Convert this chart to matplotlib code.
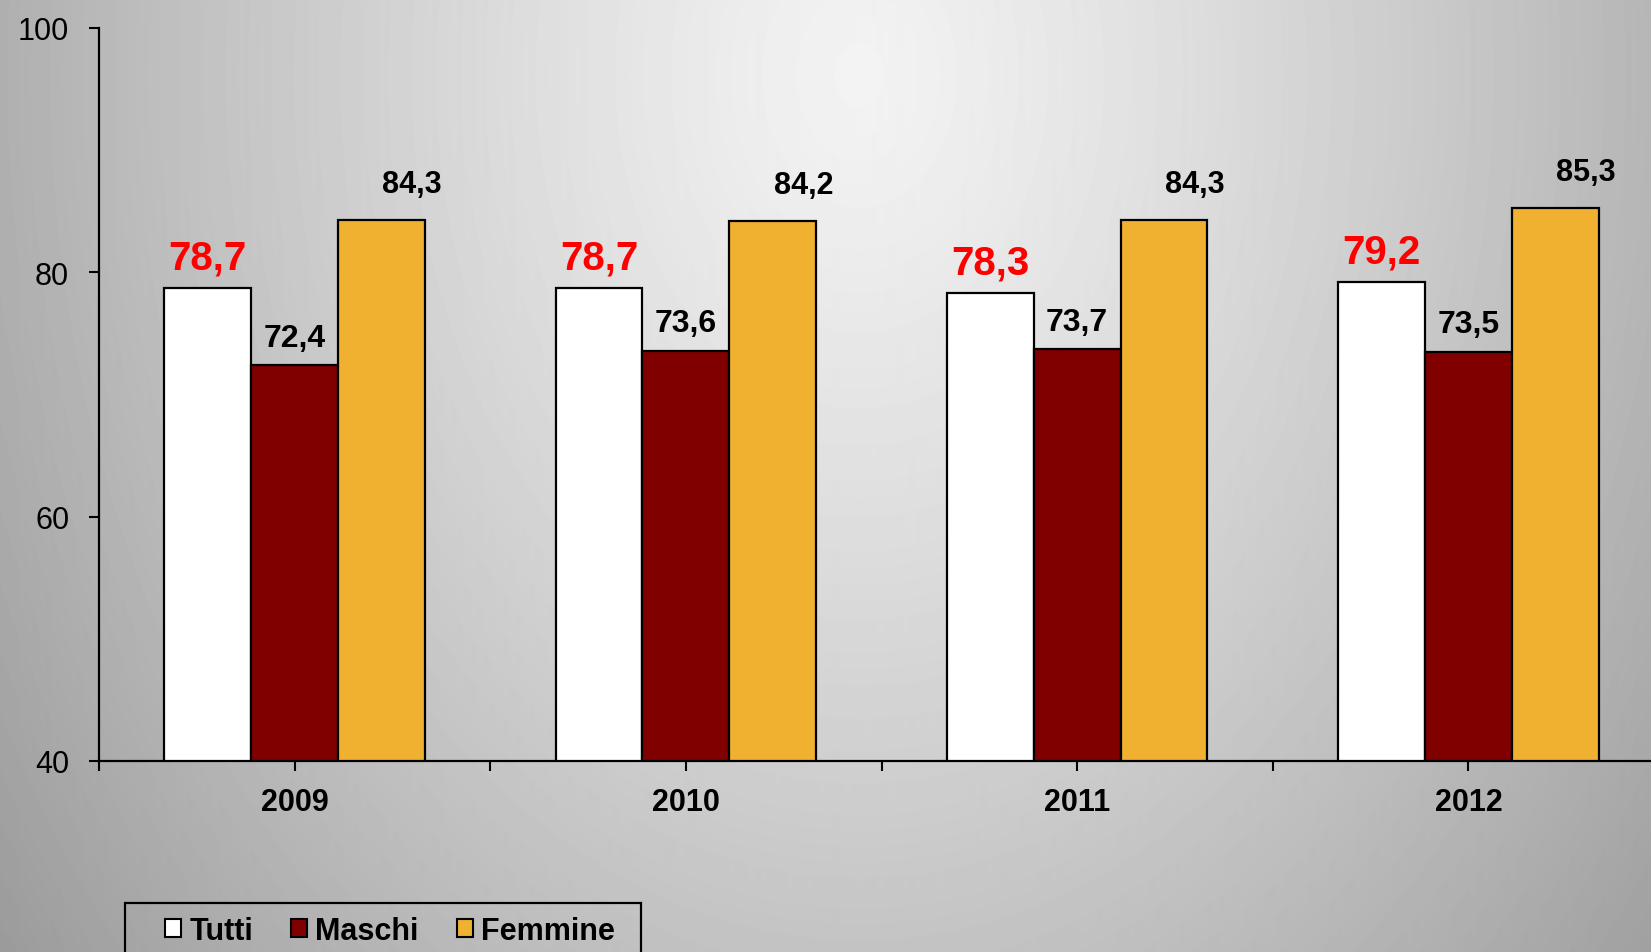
import numpy as np
import matplotlib
matplotlib.use("Agg")
import matplotlib.pyplot as plt
from matplotlib.patches import Patch, Rectangle

plt.rcParams['font.family'] = ['Liberation Sans', 'DejaVu Sans']

# dati
anni = ["2009", "2010", "2011", "2012"]
serie = ["Tutti", "Maschi", "Femmine"]
tutti = [78.7, 78.7, 78.3, 79.2]
maschi = [72.4, 73.6, 73.7, 73.5]
femmine = [84.3, 84.2, 84.3, 85.3]
yticks = [40, 60, 80, 100]

W, H = 1651, 953
fig = plt.figure(figsize=(W / 100, H / 100), dpi=100)

# sfondo con gradiente radiale
bg = fig.add_axes([0, 0, 1, 1], zorder=-10)
yy, xx = np.mgrid[0:H, 0:W]
r = np.sqrt(((xx - 0.52 * W) / (0.55 * W)) ** 2 + ((yy - 0.08 * H) / (1.3 * H)) ** 2)
val = np.clip(243 - 72 * r ** 1.2, 150, 245) / 255.0
bg.imshow(val, cmap="gray", vmin=0, vmax=1, aspect="auto", extent=[0, 1, 0, 1])
bg.axis("off")

ax = fig.add_axes([99 / W, 1 - 762 / H, (1664 - 99) / W, (762 - 29) / H])
ax.set_facecolor("none")

x = np.arange(len(anni))
w = 0.222
colori = ["white", "#800000", "#F0B030"]
valori = [tutti, maschi, femmine]
for i, (vals, c) in enumerate(zip(valori, colori)):
    ax.bar(x + (i - 1) * w, vals, w, color=c, edgecolor="black", linewidth=1.6, zorder=3)

for xi, v in zip(x, tutti):
    ax.annotate(f"{v:.1f}".replace(".", ","), (xi - w, v), xytext=(0, 14), textcoords="offset points",
                ha="center", va="baseline", color="#FF0000", fontsize=29, fontweight="bold")
for xi, v in zip(x, maschi):
    ax.annotate(f"{v:.1f}".replace(".", ","), (xi, v), xytext=(0, 14), textcoords="offset points",
                ha="center", va="baseline", color="black", fontsize=23, fontweight="bold")
for xi, v in zip(x, femmine):
    ax.annotate(f"{v:.1f}".replace(".", ","), (xi + w, v), xytext=(22, 20), textcoords="offset points",
                ha="center", va="baseline", color="black", fontsize=22, fontweight="bold")

ax.set_xlim(-0.5, len(anni) - 0.5)
ax.set_ylim(40, 100)
ax.set_yticks(yticks)
ax.set_yticklabels([str(t) for t in yticks], fontsize=22)
ax.set_xticks(x)
ax.set_xticklabels(anni, fontsize=22, fontweight="bold")
ax.set_xticks(np.arange(len(anni) + 1) - 0.5, minor=True)
ax.tick_params(axis="y", length=7.5, width=1.5, pad=14, direction="out")
ax.tick_params(axis="x", which="both", length=7.5, width=1.5, pad=11, direction="out")
for s in ["top", "right"]:
    ax.spines[s].set_visible(False)
for s in ["left", "bottom"]:
    ax.spines[s].set_linewidth(1.6)
    ax.spines[s].set_zorder(4)

# legenda
handles = [Patch(facecolor=c, edgecolor="black", linewidth=1.5) for c in colori]
fig.legend(handles, serie, loc="center left", bbox_to_anchor=(165 / W, 1 - 932 / H), ncol=3,
           frameon=False, handlelength=0.52, handleheight=0.5, handletextpad=0.27,
           columnspacing=1.25, borderpad=0, borderaxespad=0, prop={"size": 22, "weight": "bold"})
fig.patches.append(Rectangle((125 / W, -0.05), (641 - 125) / W, 0.05 + 1 - 904 / H,
                             transform=fig.transFigure, fill=False, edgecolor="black", linewidth=1.6))

fig.savefig("out.png", dpi=100)
